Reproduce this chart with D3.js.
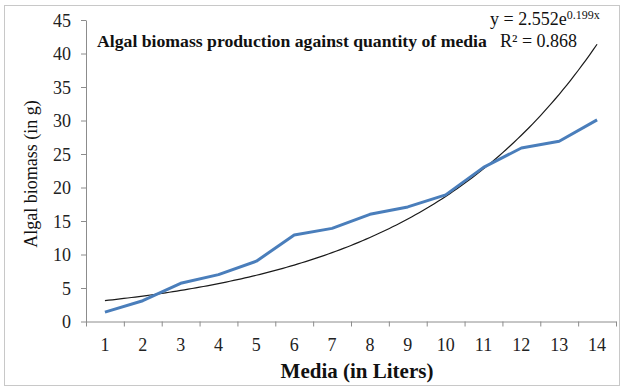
<!DOCTYPE html>
<html>
<head>
<meta charset="utf-8">
<script src="https://cdn.jsdelivr.net/npm/d3@7"></script>
<style>
	body { margin: 0; background: #fff; }
	svg { display: block; font-family: 'Liberation Serif', 'Times New Roman', serif; }
	.axis path, .axis line { stroke: #8c8c8c; }
	.axis text { font-family: 'Liberation Serif', serif; font-size: 18px; fill: #222; }
</style>
</head>
<body>
<div class="container"></div>
<script>
var media = [1, 2, 3, 4, 5, 6, 7, 8, 9, 10, 11, 12, 13, 14];
var biomass = [1.4, 3.1, 5.7, 7.0, 9.0, 12.9, 13.9, 16.0, 17.1, 18.9, 23.0, 25.9, 26.9, 30.1];
var yTicks = [0, 5, 10, 15, 20, 25, 30, 35, 40, 45];
var trendA = 2.552;
var trendB = 0.199;

var width = 622, height = 389;
var plotLeft = 86, plotRight = 616, plotTop = 20, plotBottom = 321.5;

var svg = d3
	.select('.container')
	.append('svg')
	.attr('width', width)
	.attr('height', height);

// outer frame
svg.append('rect')
	.attr('x', 4.5)
	.attr('y', 5.5)
	.attr('width', 615)
	.attr('height', 380)
	.attr('fill', 'none')
	.attr('stroke', '#c8c8c8');

var xBand = d3.scaleBand().domain(media).range([plotLeft, plotRight]);
var x = d3.scaleLinear().domain([0.5, 14.5]).range([plotLeft, plotRight]);
var y = d3.scaleLinear().domain([0, 45]).range([plotBottom, plotTop]);

// y axis
svg.append('g')
	.attr('class', 'axis')
	.attr('transform', 'translate(' + plotLeft + ',0)')
	.call(d3.axisLeft(y).tickValues(yTicks).tickSize(5).tickSizeOuter(0).tickPadding(10))
	.selectAll('text')
	.attr('dy', '0.35em');

// x axis: ticks between categories
svg.append('g')
	.attr('class', 'axis')
	.attr('transform', 'translate(0,' + plotBottom + ')')
	.call(d3.axisBottom(x)
		.tickValues(d3.range(0.5, 15, 1))
		.tickSize(5)
		.tickSizeOuter(0)
		.tickFormat(''));

// x labels at category centers
var xl = svg.append('g')
	.attr('class', 'axis')
	.attr('transform', 'translate(0,' + (plotBottom + 17) + ')')
	.call(d3.axisBottom(xBand).tickSize(0).tickPadding(0));
xl.select('.domain').remove();

// trend line
var trendPts = d3.range(1, 14.01, 0.1).map(function(v) {
	return [v, trendA * Math.exp(trendB * v)];
});
svg.append('path')
	.datum(trendPts)
	.attr('fill', 'none')
	.attr('stroke', '#1a1a1a')
	.attr('stroke-width', 1.2)
	.attr('d', d3.line()
		.x(function(d) { return x(d[0]); })
		.y(function(d) { return y(d[1]); }));

// data line
svg.append('path')
	.datum(biomass)
	.attr('fill', 'none')
	.attr('stroke', '#4a7ebb')
	.attr('stroke-width', 3)
	.attr('stroke-linejoin', 'round')
	.attr('d', d3.line()
		.x(function(d, i) { return xBand(media[i]) + xBand.bandwidth() / 2; })
		.y(function(d) { return y(d); }));

// title
svg.append('text')
	.attr('x', 97)
	.attr('y', 47)
	.attr('font-size', 17.7)
	.attr('font-weight', 'bold')
	.attr('fill', '#111')
	.text('Algal biomass production against quantity of media');

// equation
var eq = svg.append('text')
	.attr('x', 490)
	.attr('y', 25)
	.attr('font-size', 18)
	.attr('fill', '#111');
eq.append('tspan').text('y = ' + trendA + 'e');
eq.append('tspan')
	.attr('font-size', 12)
	.attr('dy', -6)
	.text(trendB + 'x');

svg.append('text')
	.attr('x', 500)
	.attr('y', 47)
	.attr('font-size', 18)
	.attr('fill', '#111')
	.text('R² = 0.868');

// axis titles
svg.append('text')
	.attr('x', 357)
	.attr('y', 378)
	.attr('text-anchor', 'middle')
	.attr('font-size', 21)
	.attr('font-weight', 'bold')
	.attr('fill', '#111')
	.text('Media (in Liters)');

svg.append('text')
	.attr('transform', 'translate(37,174) rotate(-90)')
	.attr('text-anchor', 'middle')
	.attr('font-size', 18)
	.attr('fill', '#111')
	.text('Algal biomass (in g)');
</script>
</body>
</html>
